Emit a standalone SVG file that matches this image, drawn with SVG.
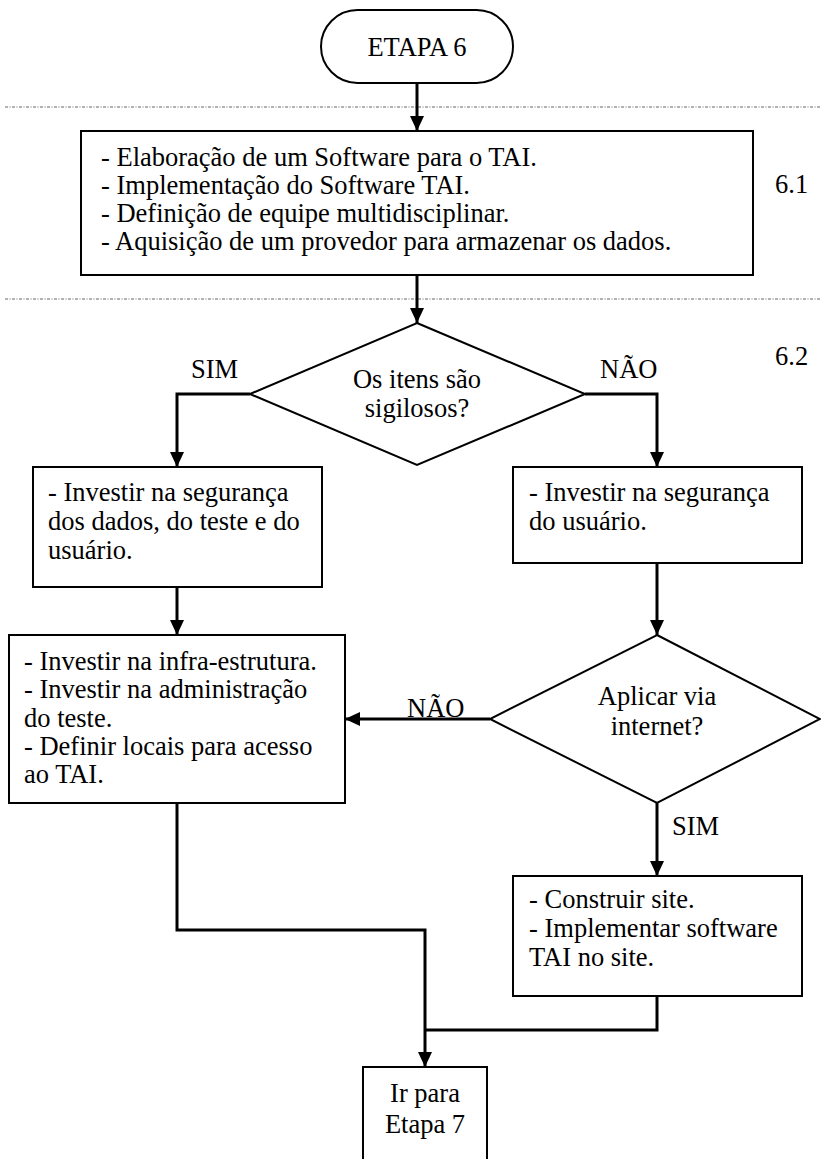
<svg xmlns="http://www.w3.org/2000/svg" width="821" height="1159" viewBox="0 0 821 1159">
  <style>
    text { font-family: "Liberation Serif", "Times New Roman", serif; font-size: 26.5px; fill: #000; }
    .c { text-anchor: middle; }
    .box { fill: #fff; stroke: #000; stroke-width: 2; }
    .link { fill: none; stroke: #000; stroke-width: 3; }
    .sep { stroke: #666; stroke-width: 1; stroke-dasharray: 3 1.5 1 1.5; }
  </style>
  <defs>
    <marker id="arrow" markerUnits="userSpaceOnUse" markerWidth="16" markerHeight="16" refX="15" refY="8" orient="auto">
      <path d="M0,1 L15,8 L0,15 z" fill="#000"/>
    </marker>
  </defs>
  <rect width="821" height="1159" fill="#fff"/>

  <!-- stage separators -->
  <line class="sep" x1="5" y1="107" x2="821" y2="107"/>
  <line class="sep" x1="5" y1="299" x2="821" y2="299"/>

  <!-- connectors -->
  <g id="connectors">
    <path class="link" d="M417,83 V131" marker-end="url(#arrow)"/>
    <path class="link" d="M417,275 V323" marker-end="url(#arrow)"/>
    <path class="link" d="M250,394 H177 V467" marker-end="url(#arrow)"/>
    <path class="link" d="M585,394 H657 V467" marker-end="url(#arrow)"/>
    <path class="link" d="M177,587 V635" marker-end="url(#arrow)"/>
    <path class="link" d="M657,563 V635" marker-end="url(#arrow)"/>
    <path class="link" d="M490,719 H345" marker-end="url(#arrow)"/>
    <path class="link" d="M657,803 V876" marker-end="url(#arrow)"/>
    <path class="link" d="M177,803 V930 H425 V1067" marker-end="url(#arrow)"/>
    <path class="link" d="M657,996 V1030 H425"/>
    <text x="191" y="378">SIM</text>
    <text x="600" y="378">NÃO</text>
    <text x="407" y="717">NÃO</text>
    <text x="672" y="835">SIM</text>
  </g>

  <g id="start">
    <rect class="box" x="321" y="10" width="192" height="73" rx="36.5"/>
    <text class="c" x="417" y="56">ETAPA 6</text>
  </g>

  <g id="step-6-1">
    <rect class="box" x="81" y="131" width="672" height="144"/>
    <text x="101" y="166">- Elaboração de um Software para o TAI.</text>
    <text x="101" y="194">- Implementação do Software TAI.</text>
    <text x="101" y="222">- Definição de equipe multidisciplinar.</text>
    <text x="101" y="250">- Aquisição de um provedor para armazenar os dados.</text>
  </g>
  <text x="775" y="193">6.1</text>

  <g id="decision-sigilo">
    <polygon class="box" points="417,323 585,394 417,465 250,394"/>
    <text class="c" x="417" y="388">Os itens são</text>
    <text class="c" x="417" y="417">sigilosos?</text>
  </g>
  <text x="775" y="365">6.2</text>

  <g id="security-full">
    <rect class="box" x="33" y="467" width="289" height="120"/>
    <text x="48" y="501">- Investir na segurança</text>
    <text x="48" y="530">dos dados, do teste e do</text>
    <text x="48" y="559">usuário.</text>
  </g>

  <g id="security-user">
    <rect class="box" x="513" y="467" width="289" height="96"/>
    <text x="529" y="501">- Investir na segurança</text>
    <text x="529" y="530">do usuário.</text>
  </g>

  <g id="infrastructure">
    <rect class="box" x="9" y="635" width="336" height="168"/>
    <text x="24" y="670">- Investir na infra-estrutura.</text>
    <text x="24" y="698">- Investir na administração</text>
    <text x="24" y="727">do teste.</text>
    <text x="24" y="755">- Definir locais para acesso</text>
    <text x="24" y="783">ao TAI.</text>
  </g>

  <g id="decision-internet">
    <polygon class="box" points="657,635 820,719 657,803 490,719"/>
    <text class="c" x="657" y="705">Aplicar via</text>
    <text class="c" x="657" y="735">internet?</text>
  </g>

  <g id="website">
    <rect class="box" x="513" y="876" width="289" height="120"/>
    <text x="529" y="908">- Construir site.</text>
    <text x="529" y="937">- Implementar software</text>
    <text x="529" y="966">TAI no site.</text>
  </g>

  <g id="next-stage">
    <rect class="box" x="363" y="1067" width="124" height="110"/>
    <text class="c" x="425" y="1102">Ir para</text>
    <text class="c" x="425" y="1133">Etapa 7</text>
  </g>
</svg>
